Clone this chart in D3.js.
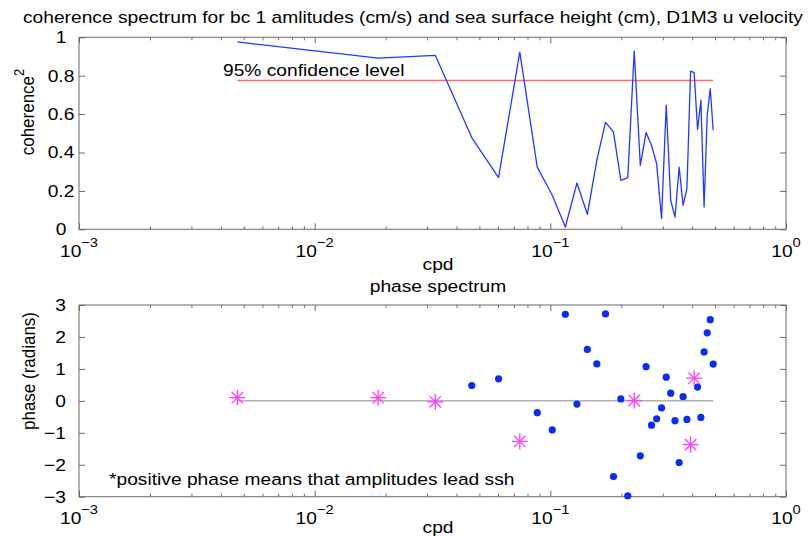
<!DOCTYPE html>
<html><head><meta charset="utf-8">
<script src="https://cdn.jsdelivr.net/npm/d3@7"></script>
<style>
body{margin:0;background:#fff;}
text{font-family:"Liberation Sans",Arial,Helvetica,sans-serif;fill:#000;}
</style></head>
<body><svg id="c" width="811" height="536"></svg>
<script>
// ---- data ----
const freq = [0.0047, 0.0186, 0.0325, 0.0464, 0.0603, 0.0742, 0.0880, 0.1019, 0.1158, 0.1297,
  0.1436, 0.1575, 0.1714, 0.1853, 0.1992, 0.2131, 0.2270, 0.2409, 0.2548, 0.2687,
  0.2825, 0.2964, 0.3103, 0.3242, 0.3381, 0.3520, 0.3659, 0.3798, 0.3937, 0.4076,
  0.4215, 0.4354, 0.4492, 0.4631, 0.4770, 0.4909];
const coherence = [0.976, 0.892, 0.906, 0.478, 0.269, 0.923, 0.324, 0.177, 0.012, 0.241,
  0.078, 0.359, 0.557, 0.507, 0.255, 0.269, 0.929, 0.333, 0.504, 0.438,
  0.342, 0.056, 0.646, 0.151, 0.064, 0.324, 0.125, 0.212, 0.824, 0.816,
  0.519, 0.672, 0.116, 0.594, 0.733, 0.516];
const phase = [0.10, 0.10, -0.03, 0.48, 0.69, -1.27, -0.37, -0.91, 2.71, -0.10,
  1.61, 1.16, 2.72, -2.37, 0.06, -2.97, 0.01, -1.72, 1.07, -0.76,
  -0.56, -0.22, 0.74, 0.24, -0.62, -1.93, 0.13, -0.58, -1.37, 0.71,
  0.43, -0.52, 1.53, 2.13, 2.54, 1.15];
const confLevel = 0.775;
const xMajor = [1e-3, 1e-2, 1e-1, 1];
const xMajorExp = ["−3", "−2", "−1", "0"];
const cohTicks = [0, 0.2, 0.4, 0.6, 0.8, 1];
const cohTickLabels = ["0", "0.2", "0.4", "0.6", "0.8", "1"];
const phaseTicks = [-3, -2, -1, 0, 1, 2, 3];
const phaseTickLabels = ["−3", "−2", "−1", "0", "1", "2", "3"];
const titleText = "coherence spectrum for bc 1 amlitudes (cm/s) and sea surface height (cm), D1M3 u velocity";
const confText = "95% confidence level";
const noteText = "*positive phase means that amplitudes lead ssh";

// ---- layout ----
const L = 79, R = 786;
const SX = 1.13;          // horizontal stretch of the reference's glyphs
const FS = 17;
const svg = d3.select("#c");
const x = d3.scaleLog().domain([1e-3, 1]).range([L, R]);
const yC = d3.scaleLinear().domain([0, 1]).range([229.3, 37.3]);
const yP = d3.scaleLinear().domain([-3, 3]).range([496.7, 305]);
const minor = [];
for (let e = -3; e < 0; e++) for (let m = 2; m <= 9; m++) minor.push(m * Math.pow(10, e));

const FRAME = "#6a6a6a";

function label(parent, px, py, str, anchor, rot) {
  const t = parent.append("text")
    .attr("transform", `translate(${px},${py}) scale(${SX},1)` + (rot ? ` rotate(${rot})` : ""))
    .attr("text-anchor", anchor || "start").attr("font-size", FS);
  if (str !== null) t.text(str);
  return t;
}

function frameAndAxes(y, yTicks, yLabels, yLabelAnchor, yLabelX) {
  const top = y.range()[1], bot = y.range()[0];
  const g = svg.append("g");
  const styleAxis = s => { s.select(".domain").remove(); s.selectAll("line").attr("stroke", FRAME); };
  g.append("g").attr("transform", `translate(0,${bot})`)
    .call(d3.axisBottom(x).tickValues(minor).tickSize(-3).tickFormat("")).call(styleAxis);
  g.append("g").attr("transform", `translate(0,${top})`)
    .call(d3.axisTop(x).tickValues(minor).tickSize(-3).tickFormat("")).call(styleAxis);
  g.append("g").attr("transform", `translate(0,${bot})`)
    .call(d3.axisBottom(x).tickValues(xMajor).tickSize(-6).tickFormat("")).call(styleAxis);
  g.append("g").attr("transform", `translate(0,${top})`)
    .call(d3.axisTop(x).tickValues(xMajor).tickSize(-6).tickFormat("")).call(styleAxis);
  g.append("g").attr("transform", `translate(${L},0)`)
    .call(d3.axisLeft(y).tickValues(yTicks).tickSize(-6).tickFormat("")).call(styleAxis);
  g.append("g").attr("transform", `translate(${R},0)`)
    .call(d3.axisRight(y).tickValues(yTicks).tickSize(-6).tickFormat("")).call(styleAxis);
  g.append("rect").attr("x", L).attr("y", top).attr("width", R - L).attr("height", bot - top)
    .attr("fill", "none").attr("stroke", FRAME).attr("stroke-width", 1);
  yTicks.forEach((d, i) => {
    label(g, yLabelX, y(d), yLabels[i], yLabelAnchor).attr("dy", "0.35em");
  });
  xMajor.forEach((d, i) => {
    const t = label(g, x(d), bot + 27.5, null, "middle");
    t.append("tspan").text("10");
    t.append("tspan").attr("font-size", 13).attr("dy", -10).text(xMajorExp[i]);
  });
  return g;
}

// ---------- top panel ----------
frameAndAxes(yC, cohTicks, cohTickLabels, "middle", 61);
svg.append("line").attr("x1", x(freq[0])).attr("x2", x(freq[freq.length - 1]))
  .attr("y1", yC(confLevel)).attr("y2", yC(confLevel))
  .attr("stroke", "#ff6b6b").attr("stroke-width", 1.3);
label(svg, 223, 76, confText);
svg.append("path").datum(freq.map((f, i) => [f, coherence[i]]))
  .attr("fill", "none").attr("stroke", "#2438ff").attr("stroke-width", 1.3)
  .attr("stroke-linejoin", "round")
  .attr("d", d3.line().x(d => x(d[0])).y(d => yC(d[1])));
label(svg, 23, 23, titleText);
label(svg, 438, 270, "cpd", "middle");
const yl1 = label(svg, 34, 112, null, "middle", -90);
yl1.append("tspan").text("coherence");
yl1.append("tspan").attr("font-size", 13).attr("dy", -9).text("2");

// ---------- bottom panel ----------
frameAndAxes(yP, phaseTicks, phaseTickLabels, "end", 66);
label(svg, 438, 292, "phase spectrum", "middle");
svg.append("line").attr("x1", x(freq[0])).attr("x2", x(freq[freq.length - 1]))
  .attr("y1", yP(0)).attr("y2", yP(0)).attr("stroke", "#8a8a8a").attr("stroke-width", 1);
const pts = freq.map((f, i) => ({ f, p: phase[i], sig: coherence[i] >= confLevel }));
svg.append("g").selectAll("circle").data(pts.filter(d => !d.sig)).join("circle")
  .attr("cx", d => x(d.f)).attr("cy", d => yP(d.p)).attr("r", 3.6).attr("fill", "#0b2cf2");
const star = svg.append("g").selectAll("g").data(pts.filter(d => d.sig)).join("g")
  .attr("transform", d => `translate(${x(d.f)},${yP(d.p)})`)
  .attr("stroke", "#ff3cff").attr("stroke-width", 1.3);
const s = 8, sd = 5.7;
star.append("line").attr("x1", -s).attr("x2", s).attr("y1", 0).attr("y2", 0);
star.append("line").attr("x1", 0).attr("x2", 0).attr("y1", -s).attr("y2", s);
star.append("line").attr("x1", -sd).attr("x2", sd).attr("y1", -sd).attr("y2", sd);
star.append("line").attr("x1", -sd).attr("x2", sd).attr("y1", sd).attr("y2", -sd);
label(svg, 109, 485, noteText);
label(svg, 438, 533, "cpd", "middle");
label(svg, 35, 371, "phase (radians)", "middle", -90);
</script></body></html>
